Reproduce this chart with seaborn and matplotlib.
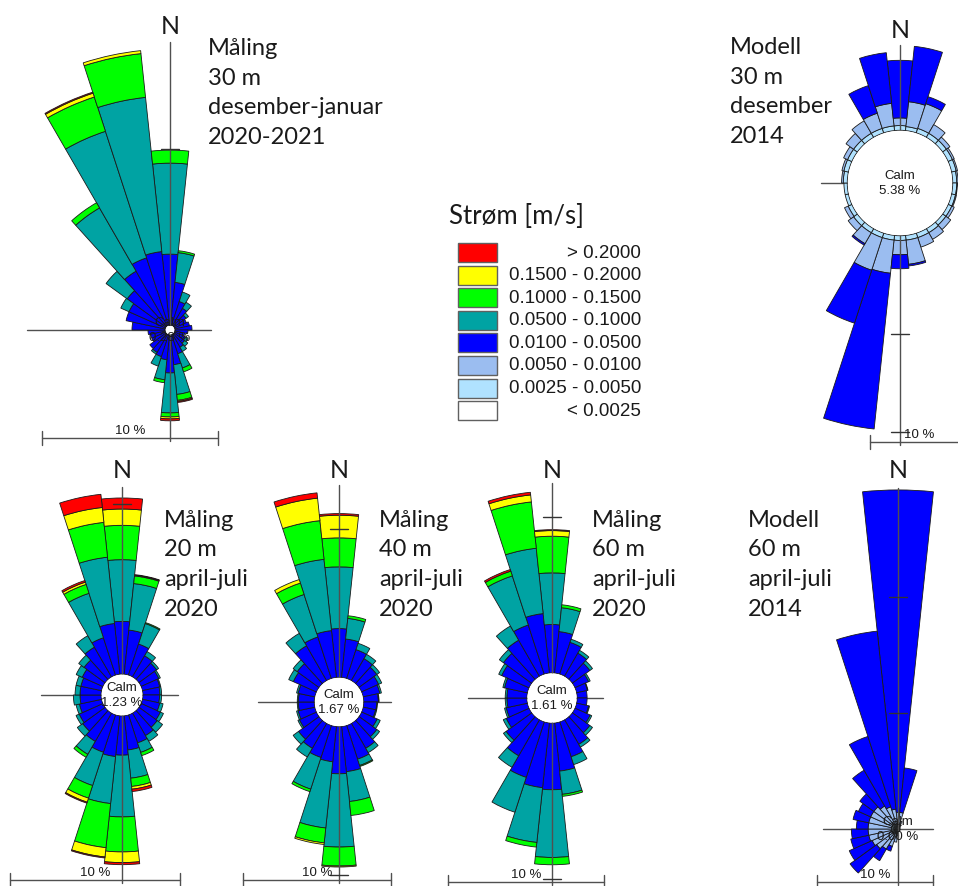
import numpy as np
import matplotlib
matplotlib.use("Agg")
import matplotlib.pyplot as plt
from matplotlib.patches import Rectangle, Circle
import seaborn as sns

sns.set_theme(style="white")
plt.rcParams['font.family'] = ['Lato', 'DejaVu Sans']

W, H = 958, 886

# ---------------- data ----------------
directions = list(range(0, 360, 12))  # sector centres (deg), 12 deg sectors

class_labels = ['> 0.2000', '0.1500 - 0.2000', '0.1000 - 0.1500', '0.0500 - 0.1000',
                '0.0100 - 0.0500', '0.0050 - 0.0100', '0.0025 - 0.0050', '< 0.0025']
class_hex = ['#ff0000', '#ffff00', '#00ff00', '#00a3a3', '#0000ff', '#9bbdf0', '#b0e2ff', '#ffffff']

# Måling 30 m, desember-januar 2020-2021 (percent per sector and speed class)
m30_blue = [4.03, 2.44, 1.42, 1.14, 0.85, 0.74, 0.85, 0.97, 0.74, 0.57, 0.68, 0.74, 0.85, 1.14, 1.70,
            2.16, 1.42, 1.31, 1.19, 1.14, 0.85, 0.85, 0.97, 1.88, 2.27, 2.27, 2.73, 3.58, 4.03, 4.20]
m30_teal = [5.17, 1.70, 0.57, 0.40, 0.17, 0, 0, 0, 0, 0, 0.17, 0.23, 0.28, 0.85, 1.70,
            2.27, 1.14, 0.57, 0.11, 0, 0, 0, 0, 0, 0, 0.51, 1.48, 4.15, 7.56, 8.81]
m30_green = [0.74, 0.11, 0, 0, 0, 0, 0, 0, 0, 0, 0, 0, 0, 0.23, 0.34,
             0.23, 0.17, 0, 0, 0, 0, 0, 0, 0, 0, 0, 0, 0.34, 2.05, 2.50]
m30_yellow = [0, 0, 0, 0, 0, 0, 0, 0, 0, 0, 0, 0, 0, 0, 0.06,
              0.11, 0, 0, 0, 0, 0, 0, 0, 0, 0, 0, 0, 0, 0.23, 0.17]
m30_red = [0, 0, 0, 0, 0, 0, 0, 0, 0, 0, 0, 0, 0, 0, 0.06,
           0.11, 0, 0, 0, 0, 0, 0, 0, 0, 0, 0, 0, 0, 0.06, 0]
m30_calm = 0.28

# Måling 20 m, april-juli 2020
m20_blue = [3.10, 2.61, 1.92, 1.43, 1.29, 1.14, 1.04, 1.00, 0.98, 1.04, 1.24, 1.33, 1.53, 1.73, 2.02,
            2.31, 2.41, 2.31, 1.92, 1.63, 1.53, 1.33, 1.24, 1.24, 1.24, 1.33, 1.53, 2.02, 2.31, 3.00]
m20_teal = [3.63, 2.75, 1.27, 0.29, 0.14, 0.10, 0.06, 0.10, 0.12, 0.20, 0.20, 0.39, 0.39, 0.59, 1.67,
            3.63, 2.78, 2.06, 0.88, 0.39, 0.20, 0.20, 0.39, 0.29, 0.29, 0.39, 0.39, 0.78, 2.75, 3.92]
m20_green = [2.02, 0.45, 0.06, 0, 0, 0, 0, 0, 0, 0, 0, 0, 0, 0.20, 0.49,
             2.06, 2.61, 0.78, 0.20, 0, 0, 0, 0, 0, 0, 0, 0, 0, 0.55, 2.06]
m20_yellow = [0.96, 0.04, 0, 0, 0, 0, 0, 0, 0, 0, 0, 0, 0, 0, 0.16,
              0.63, 0.55, 0.25, 0, 0, 0, 0, 0, 0, 0, 0, 0, 0, 0.14, 0.88]
m20_red = [0.65, 0.04, 0, 0, 0, 0, 0, 0, 0, 0, 0, 0, 0, 0, 0.14,
           0.12, 0.06, 0.06, 0, 0, 0, 0, 0, 0, 0, 0, 0, 0, 0.10, 0.78]
m20_calm = 1.23

# Måling 40 m, april-juli 2020
m40_blue = [3.29, 2.61, 2.05, 1.71, 1.49, 1.26, 1.15, 0.99, 0.88, 0.86, 1.15, 1.49, 1.94, 2.39, 3.06,
            3.18, 2.39, 2.27, 1.94, 1.71, 1.26, 1.15, 1.08, 1.08, 1.15, 1.71, 1.82, 2.72, 2.95, 3.18]
m40_teal = [4.17, 1.40, 0.45, 0.34, 0.23, 0.23, 0.11, 0.05, 0.05, 0.07, 0.23, 0.23, 0.34, 0.45, 2.03,
            4.95, 4.50, 2.25, 0.68, 0.45, 0.11, 0.11, 0.07, 0.07, 0.11, 0.34, 0.34, 0.97, 3.02, 4.84]
m40_green = [1.96, 0.18, 0, 0, 0, 0, 0, 0, 0, 0, 0, 0, 0, 0.07, 0.95,
             1.28, 1.01, 0.18, 0, 0, 0, 0, 0, 0, 0, 0, 0, 0, 0.81, 2.63]
m40_yellow = [1.53, 0, 0, 0, 0, 0, 0, 0, 0, 0, 0, 0, 0, 0, 0,
              0.07, 0.11, 0, 0, 0, 0, 0, 0, 0, 0, 0, 0, 0, 0.25, 1.53]
m40_red = [0.11, 0, 0, 0, 0, 0, 0, 0, 0, 0, 0, 0, 0, 0, 0,
           0, 0, 0, 0, 0, 0, 0, 0, 0, 0, 0, 0, 0, 0, 0.36]
m40_calm = 1.67

# Måling 60 m, april-juli 2020
m60_blue = [3.10, 2.67, 2.14, 1.71, 1.39, 0.96, 0.71, 0.64, 0.64, 0.79, 1.07, 1.39, 1.82, 2.35, 3.10,
            4.27, 4.17, 3.74, 2.67, 2.03, 1.60, 1.39, 1.28, 1.28, 1.50, 1.92, 2.24, 2.67, 3.31, 3.83]
m60_teal = [3.31, 1.54, 0.21, 0.21, 0.21, 0.11, 0.04, 0, 0, 0.06, 0.11, 0.21, 0.21, 0.53, 1.50,
            4.34, 3.53, 2.35, 0.85, 0.21, 0.21, 0.11, 0.11, 0.11, 0.11, 0.21, 0.32, 1.05, 3.31, 4.21]
m60_green = [2.35, 0.19, 0, 0, 0, 0, 0, 0, 0, 0, 0, 0, 0, 0, 0.13,
             0.47, 0.30, 0, 0, 0, 0, 0, 0, 0, 0, 0, 0, 0, 0.32, 2.99]
m60_yellow = [0.36, 0, 0, 0, 0, 0, 0, 0, 0, 0, 0, 0, 0, 0, 0,
              0, 0, 0, 0, 0, 0, 0, 0, 0, 0, 0, 0, 0, 0, 0.45]
m60_red = [0.06, 0, 0, 0, 0, 0, 0, 0, 0, 0, 0, 0, 0, 0, 0,
           0, 0, 0, 0, 0, 0, 0, 0, 0, 0, 0, 0, 0, 0.11, 0.17]
m60_calm = 1.61

# Modell 30 m, desember 2014
mod30_light = [0.48, 0.41, 0.48, 0.48, 0.48, 0.48, 0.48, 0.41, 0.41, 0.41, 0.41, 0.41, 0.48, 0.48, 0.48,
               0.48, 0.48, 0.48, 0.48, 0.48, 0.41, 0.34, 0.34, 0.41, 0.48, 0.48, 0.48, 0.48, 0.48, 0.48]
mod30_medium = [0.78, 2.55, 2.65, 1.02, 0.44, 0.20, 0.14, 0.14, 0.07, 0.10, 0.27, 0.61, 0.78, 1.02, 2.48,
                1.46, 3.40, 3.50, 1.29, 0.68, 0.41, 0, 0, 0.17, 0.20, 0.44, 0.95, 1.46, 1.63, 2.31]
mod30_blue = [5.88, 5.68, 0.75, 0, 0, 0, 0, 0, 0, 0, 0, 0, 0, 0, 0.17,
              1.43, 15.98, 5.68, 0.17, 0, 0, 0, 0, 0, 0, 0, 0, 0, 2.96, 5.20]
mod30_calm = 5.38

# Modell 60 m, april-juli 2014
mod60_light = [0.43, 0.43, 0.29, 0.23, 0.23, 0.20, 0.17, 0.17, 0.17, 0.17, 0.20, 0.20, 0.20, 0.23, 0.23,
               0.29, 0.34, 0.43, 0.43, 0.57, 0.57, 0.57, 0.57, 0.57, 0.57, 0.57, 0.57, 0.57, 0.43, 0.43]
mod60_medium = [1.01, 1.01, 0.43, 0.20, 0, 0, 0, 0, 0, 0, 0, 0, 0, 0, 0,
                0.29, 0.80, 1.15, 1.58, 1.72, 1.87, 2.01, 2.01, 2.01, 2.01, 2.01, 2.01, 1.72, 1.58, 1.29]
mod60_blue = [27.79, 3.85, 0, 0, 0, 0, 0, 0, 0, 0, 0, 0, 0, 0, 0,
              0, 0, 0.43, 1.15, 2.82, 2.16, 1.58, 1.44, 1.01, 1.38, 1.15, 1.49, 3.56, 6.38, 15.43]
mod60_calm = 0.00

# ---------------- styling ----------------
pal = sns.color_palette(class_hex)
C_RED, C_YEL, C_GRN, C_TEAL, C_BLUE, C_MED, C_LIGHT, C_WHITE = pal

fig = plt.figure(figsize=(W / 100, H / 100), dpi=100)
fig.patch.set_facecolor('white')


def overlay(z):
    ax = fig.add_axes([0, 0, 1, 1], zorder=z)
    ax.set_xlim(0, W)
    ax.set_ylim(H, 0)
    ax.axis('off')
    ax.patch.set_alpha(0)
    return ax


bg = overlay(0)
fg = overlay(5)

LINE = '#505050'
TXT = '#1a1a1a'
LABEL_FONT = ['Lato', 'DejaVu Sans']
ARIAL = ['Liberation Sans', 'DejaVu Sans']

roses = [
    dict(layers=[(m30_blue, C_BLUE), (m30_teal, C_TEAL), (m30_green, C_GRN), (m30_yellow, C_YEL), (m30_red, C_RED)],
         calm=m30_calm, cx=170, cy=330, ppp=17.6, vtop=42, hx=(27, 211), ticks=[10],
         bar=(42, 438), nlab=26, text=(208, 55, ['Måling', '30 m', 'desember-januar', '2020-2021'])),
    dict(layers=[(mod30_light, C_LIGHT), (mod30_medium, C_MED), (mod30_blue, C_BLUE)],
         calm=mod30_calm, cx=900, cy=183, ppp=9.8, vtop=45, hx=(821, 958), ticks=[-10, -20],
         bar=(870, 442), nlab=30, text=(730, 54, ['Modell', '30 m', 'desember', '2014'])),
    dict(layers=[(m20_blue, C_BLUE), (m20_teal, C_TEAL), (m20_green, C_GRN), (m20_yellow, C_YEL), (m20_red, C_RED)],
         calm=m20_calm, cx=122, cy=695, ppp=17.0, vtop=487, hx=(41, 178), ticks=[10],
         bar=(10, 880), nlab=470, text=(164, 527, ['Måling', '20 m', 'april-juli', '2020'])),
    dict(layers=[(m40_blue, C_BLUE), (m40_teal, C_TEAL), (m40_green, C_GRN), (m40_yellow, C_YEL), (m40_red, C_RED)],
         calm=m40_calm, cx=339, cy=702, ppp=14.8, vtop=485, hx=(258, 391), ticks=[10, -10],
         bar=(243, 880), nlab=470, text=(379, 527, ['Måling', '40 m', 'april-juli', '2020'])),
    dict(layers=[(m60_blue, C_BLUE), (m60_teal, C_TEAL), (m60_green, C_GRN), (m60_yellow, C_YEL), (m60_red, C_RED)],
         calm=m60_calm, cx=552, cy=698, ppp=15.6, vtop=483, hx=(468, 603), ticks=[10, -10],
         bar=(448, 882), nlab=470, text=(592, 527, ['Måling', '60 m', 'april-juli', '2020'])),
    dict(layers=[(mod60_light, C_LIGHT), (mod60_medium, C_MED), (mod60_blue, C_BLUE)],
         calm=mod60_calm, cx=898, cy=829, ppp=11.6, vtop=488, hx=(823, 933), ticks=[10, 20],
         bar=(817, 882), nlab=470, text=(748, 527, ['Modell', '60 m', 'april-juli', '2014'])),
]

theta = np.deg2rad(np.array(directions, dtype=float))
width = np.deg2rad(12)
R = 420

for i, r in enumerate(roses):
    cx, cy, ppp = r['cx'], r['cy'], r['ppp']
    ax = fig.add_axes([(cx - R) / W, 1 - (cy + R) / H, 2 * R / W, 2 * R / H],
                      projection='polar', zorder=1 + i * 0.01)
    ax.set_theta_zero_location('N')
    ax.set_theta_direction(-1)
    ax.axis('off')
    ax.patch.set_alpha(0)
    bottom = np.full(len(directions), r['calm'], dtype=float)
    for vals, col in r['layers']:
        v = np.asarray(vals, dtype=float)
        m = v > 0
        ax.bar(theta[m], v[m], width=width, bottom=bottom[m], color=col,
               edgecolor='#1a1a1a', linewidth=0.6, align='center')
        bottom = bottom + v
    ax.set_ylim(0, R / ppp)

    # horizontal axis (under bars)
    bg.plot(r['hx'], [cy, cy], color=LINE, lw=1.0)
    # vertical axis (over bars) down to scale bar
    bx, by = r['bar']
    fg.plot([cx, cx], [r['vtop'], by + 3], color=LINE, lw=1.0)
    # ticks on vertical axis (positive = north, negative = south)
    for t in r['ticks']:
        d = (r['calm'] + abs(t)) * ppp
        ty = cy - d if t > 0 else cy + d
        fg.plot([cx - 9, cx + 9], [ty, ty], color='#333333', lw=1.0)
    # calm circle + text
    cr = r['calm'] * ppp
    if cr > 1:
        fg.add_patch(Circle((cx, cy), cr - 0.6, facecolor='white', edgecolor='none', zorder=2))
    fg.text(cx, cy - 7, 'Calm', ha='center', va='center', fontsize=9.5, family=ARIAL, color=TXT, zorder=3)
    fg.text(cx, cy + 8, f"{r['calm']:.2f} %", ha='center', va='center', fontsize=9.5, family=ARIAL,
            color=TXT, zorder=3)
    # scale bar = 10 %
    L = 10 * ppp
    fg.plot([bx, bx + L], [by, by], color=LINE, lw=1.0)
    fg.plot([bx, bx], [by - 7, by + 7], color=LINE, lw=1.0)
    fg.plot([bx + L, bx + L], [by - 7, by + 7], color=LINE, lw=1.0)
    fg.text(bx + L / 2, by - 4, '10 %', ha='center', va='baseline', fontsize=9.5, family=ARIAL, color=TXT)
    # N label
    fg.text(cx, r['nlab'], 'N', ha='center', va='center', fontsize=18, family=LABEL_FONT, color=TXT)
    # description text
    tx, ty0, lines = r['text']
    for k, line in enumerate(lines):
        fg.text(tx, ty0 + k * 29.5, line, ha='left', va='baseline', fontsize=17,
                family=LABEL_FONT, color=TXT)

# ---------------- legend ----------------
fg.text(449, 224, 'Strøm [m/s]', ha='left', va='baseline', fontsize=18.5, family=LABEL_FONT, color=TXT)
for k, (lab, col) in enumerate(zip(class_labels, pal)):
    top = 243 + k * 22.6
    fg.add_patch(Rectangle((458, top), 39, 19, facecolor=col, edgecolor='#606060', lw=1.0))
    fg.text(641, top + 10, lab, ha='right', va='center', fontsize=13.5, family=ARIAL, color=TXT)

fig.savefig('out.png', dpi=100, facecolor='white')
